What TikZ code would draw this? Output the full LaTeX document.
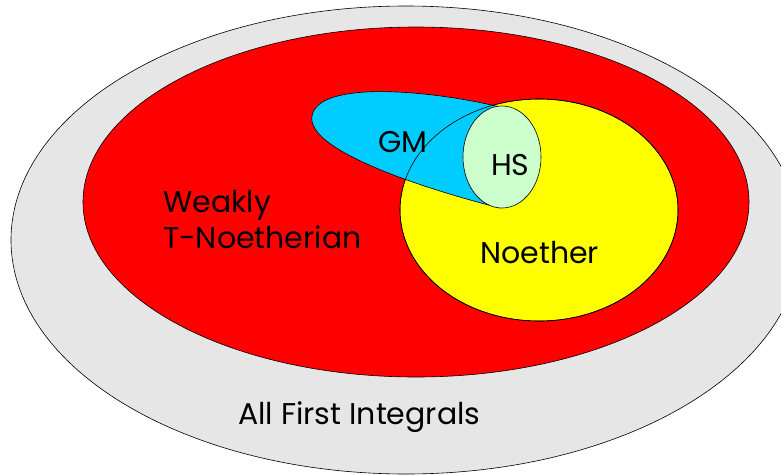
\documentclass[tikz,border=0pt]{standalone}
\usepackage{fontspec}
\setmainfont{Poppins}
\definecolor{setgray}{HTML}{E6E6E6}
\definecolor{setred}{HTML}{FF0000}
\definecolor{setyellow}{HTML}{FFFF00}
\definecolor{setblue}{HTML}{00CCFF}
\definecolor{setgreen}{HTML}{CCFFCC}
\tikzset{
  region/.style={draw=black, line width=0.6pt},
  setlabel/.style={anchor=base west, inner sep=0pt, font=\fontsize{30}{36}\selectfont, text=black},
}
\begin{document}
\begin{tikzpicture}[x=1pt, y=-1pt]
  \useasboundingbox (0,0) rectangle (781,474);
  \clip (0,0) rectangle (781,474);
  % all first integrals
  \draw[region, fill=setgray] (406,240) ellipse [x radius=395, y radius=234];
  % weakly T-Noetherian
  \draw[region, fill=setred] (416,202) ellipse [x radius=333, y radius=175];
  % Noether (fill first; the outline is redrawn above GM)
  \draw[region, fill=setyellow] (539,210) ellipse [x radius=139, y radius=111];
  % GM (its right end is hidden under HS)
  \draw[region, fill=setblue] (500,107)
      .. controls (430,90) and (318,80) .. (312,116)
      .. controls (306,148) and (410,185) .. (500,208) -- cycle;
  \draw[region] (539,210) ellipse [x radius=139, y radius=111];
  % HS
  \draw[region, fill=setgreen] (502,157) ellipse [x radius=39, y radius=51];
  % labels
  \node[setlabel] (weakly) at (163,212) {Weakly};
  \node[setlabel] (tnoeth) at (163,248) {T-Noetherian};
  \node[setlabel] (gm) at (378,152) {GM};
  \node[setlabel] (hs) at (491,175) {HS};
  \node[setlabel] (noether) at (480,263) {Noether};
  \node[setlabel] (allfi) at (238,424) {All First Integrals};
\end{tikzpicture}
\end{document}
